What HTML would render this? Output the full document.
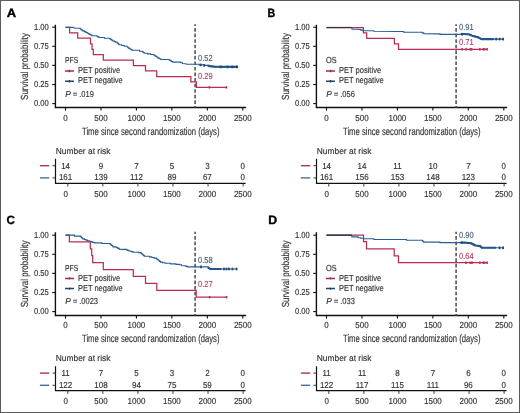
<!DOCTYPE html>
<html><head><meta charset="utf-8"><style>
html,body{margin:0;padding:0;background:#fff;}
body{width:520px;height:413px;overflow:hidden;}
svg{display:block;font-family:"Liberation Sans", sans-serif;will-change:transform;}
text{text-rendering:geometricPrecision;}
</style></head><body>
<svg width="520" height="413" viewBox="0 0 520 413">
<rect x="0" y="0" width="520" height="413" fill="#fff"/>
<rect x="0.5" y="0.5" width="519" height="412" fill="none" stroke="#5a5a5a" stroke-width="1"/>
<text x="6.80" y="16.90" font-size="12" text-anchor="start" fill="#000" stroke="#000" stroke-width="0.35" textLength="9.40" lengthAdjust="spacingAndGlyphs" font-weight="bold">A</text>
<text transform="translate(27.80,66.50) rotate(-90)" x="0" y="0" font-size="10.3" text-anchor="middle" fill="#333" stroke="#333" stroke-width="0.15" textLength="66.8" lengthAdjust="spacingAndGlyphs">Survival probability</text>
<path d="M55.4 24.8 V107.5 H246.1" fill="none" stroke="#111" stroke-width="1.4"/>
<path d="M52.2 103.60 H55.4" stroke="#111" stroke-width="1.1"/>
<text x="48.80" y="106.30" font-size="8.7" text-anchor="end" fill="#333" stroke="#333" stroke-width="0.15" textLength="14.80" lengthAdjust="spacingAndGlyphs">0.00</text>
<path d="M52.2 84.50 H55.4" stroke="#111" stroke-width="1.1"/>
<text x="48.80" y="87.20" font-size="8.7" text-anchor="end" fill="#333" stroke="#333" stroke-width="0.15" textLength="14.80" lengthAdjust="spacingAndGlyphs">0.25</text>
<path d="M52.2 65.40 H55.4" stroke="#111" stroke-width="1.1"/>
<text x="48.80" y="68.10" font-size="8.7" text-anchor="end" fill="#333" stroke="#333" stroke-width="0.15" textLength="14.80" lengthAdjust="spacingAndGlyphs">0.50</text>
<path d="M52.2 46.30 H55.4" stroke="#111" stroke-width="1.1"/>
<text x="48.80" y="49.00" font-size="8.7" text-anchor="end" fill="#333" stroke="#333" stroke-width="0.15" textLength="14.80" lengthAdjust="spacingAndGlyphs">0.75</text>
<path d="M52.2 27.20 H55.4" stroke="#111" stroke-width="1.1"/>
<text x="48.80" y="29.90" font-size="8.7" text-anchor="end" fill="#333" stroke="#333" stroke-width="0.15" textLength="14.80" lengthAdjust="spacingAndGlyphs">1.00</text>
<path d="M65.50 107.5 V110.6" stroke="#111" stroke-width="1.1"/>
<text x="65.50" y="120.80" font-size="8.7" text-anchor="middle" fill="#333" stroke="#333" stroke-width="0.15" textLength="4.45" lengthAdjust="spacingAndGlyphs">0</text>
<path d="M100.96 107.5 V110.6" stroke="#111" stroke-width="1.1"/>
<text x="100.96" y="120.80" font-size="8.7" text-anchor="middle" fill="#333" stroke="#333" stroke-width="0.15" textLength="13.35" lengthAdjust="spacingAndGlyphs">500</text>
<path d="M136.42 107.5 V110.6" stroke="#111" stroke-width="1.1"/>
<text x="136.42" y="120.80" font-size="8.7" text-anchor="middle" fill="#333" stroke="#333" stroke-width="0.15" textLength="17.80" lengthAdjust="spacingAndGlyphs">1000</text>
<path d="M171.88 107.5 V110.6" stroke="#111" stroke-width="1.1"/>
<text x="171.88" y="120.80" font-size="8.7" text-anchor="middle" fill="#333" stroke="#333" stroke-width="0.15" textLength="17.80" lengthAdjust="spacingAndGlyphs">1500</text>
<path d="M207.34 107.5 V110.6" stroke="#111" stroke-width="1.1"/>
<text x="207.34" y="120.80" font-size="8.7" text-anchor="middle" fill="#333" stroke="#333" stroke-width="0.15" textLength="17.80" lengthAdjust="spacingAndGlyphs">2000</text>
<path d="M242.80 107.5 V110.6" stroke="#111" stroke-width="1.1"/>
<text x="242.80" y="120.80" font-size="8.7" text-anchor="middle" fill="#333" stroke="#333" stroke-width="0.15" textLength="17.80" lengthAdjust="spacingAndGlyphs">2500</text>
<text x="82.00" y="134.50" font-size="10.6" text-anchor="start" fill="#333" stroke="#333" stroke-width="0.15" textLength="137.50" lengthAdjust="spacingAndGlyphs">Time since second randomization (days)</text>
<path d="M195.1 24.3 V107.5" stroke="#555" stroke-width="1.6" stroke-dasharray="3.6 1.96" stroke-dashoffset="1.80"/>
<polyline points="65.50,27.40 69.60,27.40 69.60,32.80 77.70,32.80 77.70,38.20 90.50,38.20 90.50,43.80 92.00,43.80 92.00,49.30 93.30,49.30 93.30,54.70 103.30,54.70 103.30,60.20 133.40,60.20 133.40,65.50 145.50,65.50 145.50,70.90 156.70,70.90 156.70,76.60 190.90,76.60 190.90,81.90 196.40,81.90 196.40,87.40 226.80,87.40" fill="none" stroke="#b82e50" stroke-width="1.25"/>
<rect x="208.60" y="86.20" width="1.6" height="2.4" fill="#b82e50"/>
<rect x="225.60" y="86.20" width="1.6" height="2.4" fill="#b82e50"/>
<polyline points="65.50,27.40 73.50,27.40 74.30,28.20 79.30,28.30 80.17,28.30 80.17,28.95 81.05,28.95 81.05,29.60 81.92,29.60 81.92,30.25 82.80,30.25 82.80,30.90 84.33,30.90 84.33,31.67 85.87,31.67 85.87,32.43 87.40,32.43 87.40,33.20 88.55,33.20 88.55,33.85 89.70,33.85 89.70,34.50 90.85,34.50 90.85,35.15 92.00,35.15 92.00,35.80 96.70,35.80 96.70,36.30 97.85,36.30 97.85,36.90 99.00,36.90 99.00,37.50 104.45,37.50 104.45,38.20 109.90,38.20 109.90,38.90 110.87,38.90 110.87,39.60 111.83,39.60 111.83,40.30 112.80,40.30 112.80,41.00 114.30,41.00 114.30,41.63 115.80,41.63 115.80,42.27 117.30,42.27 117.30,42.90 117.87,42.90 117.87,43.50 118.43,43.50 118.43,44.10 119.00,44.10 119.00,44.70 121.70,44.70 121.70,45.47 124.40,45.47 124.40,46.23 127.10,46.23 127.10,47.00 128.00,47.00 128.00,47.70 128.90,47.70 128.90,48.40 129.93,48.40 129.93,49.03 130.97,49.03 130.97,49.67 132.00,49.67 132.00,50.30 139.50,50.30 139.50,51.20 142.40,51.20 142.40,51.80 143.30,51.80 143.30,52.50 144.20,52.50 144.20,53.20 147.47,53.20 147.47,53.87 150.73,53.87 150.73,54.53 154.00,54.53 154.00,55.20 154.97,55.20 154.97,55.88 155.93,55.88 155.93,56.57 156.90,56.57 156.90,57.25 158.00,57.25 158.00,58.10 159.30,58.10 159.30,58.80 160.60,58.80 160.60,59.50 169.30,59.50 169.30,60.30 170.43,60.30 170.43,60.90 171.57,60.90 171.57,61.50 172.70,61.50 172.70,62.10 180.80,62.10 180.80,62.70 182.50,62.70 182.50,63.50 186.00,63.80 186.30,64.20 194.40,64.30 199.00,64.30 199.00,64.90 204.20,64.90 204.20,65.40 209.40,65.40 209.40,66.10 214.00,66.10 214.00,66.80 238.10,66.90" fill="none" stroke="#285e92" stroke-width="1.1" stroke-linejoin="miter"/>
<polyline points="207.50,65.80 209.40,66.10 214.00,66.80 238.10,66.90" fill="none" stroke="#245786" stroke-width="2.1" stroke-linejoin="round"/>
<rect x="199.80" y="63.60" width="1.8" height="2.6" fill="#1b4676"/>
<rect x="203.30" y="64.10" width="1.8" height="2.6" fill="#1b4676"/>
<rect x="219.90" y="65.60" width="1.8" height="2.6" fill="#1b4676"/>
<rect x="226.60" y="65.60" width="1.8" height="2.6" fill="#1b4676"/>
<rect x="231.40" y="65.60" width="1.8" height="2.6" fill="#1b4676"/>
<rect x="235.90" y="65.60" width="1.8" height="2.6" fill="#1b4676"/>
<text x="198.00" y="60.70" font-size="8.7" text-anchor="start" fill="#46617e" stroke="#46617e" stroke-width="0.15" textLength="14.60" lengthAdjust="spacingAndGlyphs">0.52</text>
<text x="198.00" y="78.80" font-size="8.7" text-anchor="start" fill="#b9405f" stroke="#b9405f" stroke-width="0.15" textLength="14.60" lengthAdjust="spacingAndGlyphs">0.29</text>
<text x="65.00" y="63.10" font-size="8.7" text-anchor="start" fill="#333" stroke="#333" stroke-width="0.15" textLength="13.20" lengthAdjust="spacingAndGlyphs">PFS</text>
<path d="M65 71.0 H74.0 M69.5 69.8 V72.2" stroke="#9e2a4e" stroke-width="1.5"/>
<text x="77.90" y="73.20" font-size="8.7" text-anchor="start" fill="#333" stroke="#333" stroke-width="0.15" textLength="42.20" lengthAdjust="spacingAndGlyphs">PET positive</text>
<path d="M65 81.2 H74.0 M69.5 80.0 V82.4" stroke="#1f4670" stroke-width="1.5"/>
<text x="77.90" y="83.30" font-size="8.7" text-anchor="start" fill="#333" stroke="#333" stroke-width="0.15" textLength="44.90" lengthAdjust="spacingAndGlyphs">PET negative</text>
<text x="65.20" y="96.60" font-size="8.7" text-anchor="start" fill="#333" stroke="#333" stroke-width="0.15" textLength="5.60" lengthAdjust="spacingAndGlyphs" font-style="italic">P</text>
<text x="72.80" y="96.60" font-size="8.7" text-anchor="start" fill="#333" stroke="#333" stroke-width="0.15" textLength="4.60" lengthAdjust="spacingAndGlyphs">=</text>
<text x="79.20" y="96.60" font-size="8.7" text-anchor="start" fill="#333" stroke="#333" stroke-width="0.15" textLength="14.63" lengthAdjust="spacingAndGlyphs">.019</text>
<text x="55.80" y="153.80" font-size="8.7" text-anchor="start" fill="#333" stroke="#333" stroke-width="0.15" textLength="54.60" lengthAdjust="spacingAndGlyphs">Number at risk</text>
<path d="M55.5 158.8 V183.3 H245.6" fill="none" stroke="#111" stroke-width="1.2"/>
<path d="M52.5 165.7 H55.5 M52.5 177.9 H55.5" stroke="#333" stroke-width="1.0"/>
<path d="M39.9 165.7 H49.2" stroke="#ad3459" stroke-width="1.4"/>
<path d="M39.9 177.9 H49.2" stroke="#4a6f92" stroke-width="1.4"/>
<path d="M67.80 183.3 V186.5" stroke="#333" stroke-width="0.95"/>
<text x="65.60" y="196.50" font-size="8.7" text-anchor="middle" fill="#333" stroke="#333" stroke-width="0.15" textLength="4.45" lengthAdjust="spacingAndGlyphs">0</text>
<text x="65.60" y="168.50" font-size="8.7" text-anchor="middle" fill="#333" stroke="#333" stroke-width="0.15" textLength="8.90" lengthAdjust="spacingAndGlyphs">14</text>
<text x="65.60" y="180.30" font-size="8.7" text-anchor="middle" fill="#333" stroke="#333" stroke-width="0.15" textLength="13.35" lengthAdjust="spacingAndGlyphs">161</text>
<path d="M102.86 183.3 V186.5" stroke="#333" stroke-width="0.95"/>
<text x="101.04" y="196.50" font-size="8.7" text-anchor="middle" fill="#333" stroke="#333" stroke-width="0.15" textLength="13.35" lengthAdjust="spacingAndGlyphs">500</text>
<text x="101.04" y="168.50" font-size="8.7" text-anchor="middle" fill="#333" stroke="#333" stroke-width="0.15" textLength="4.45" lengthAdjust="spacingAndGlyphs">9</text>
<text x="101.04" y="180.30" font-size="8.7" text-anchor="middle" fill="#333" stroke="#333" stroke-width="0.15" textLength="13.35" lengthAdjust="spacingAndGlyphs">139</text>
<path d="M137.92 183.3 V186.5" stroke="#333" stroke-width="0.95"/>
<text x="136.48" y="196.50" font-size="8.7" text-anchor="middle" fill="#333" stroke="#333" stroke-width="0.15" textLength="17.80" lengthAdjust="spacingAndGlyphs">1000</text>
<text x="136.48" y="168.50" font-size="8.7" text-anchor="middle" fill="#333" stroke="#333" stroke-width="0.15" textLength="4.45" lengthAdjust="spacingAndGlyphs">7</text>
<text x="136.48" y="180.30" font-size="8.7" text-anchor="middle" fill="#333" stroke="#333" stroke-width="0.15" textLength="12.75" lengthAdjust="spacingAndGlyphs">112</text>
<path d="M172.98 183.3 V186.5" stroke="#333" stroke-width="0.95"/>
<text x="171.92" y="196.50" font-size="8.7" text-anchor="middle" fill="#333" stroke="#333" stroke-width="0.15" textLength="17.80" lengthAdjust="spacingAndGlyphs">1500</text>
<text x="171.92" y="168.50" font-size="8.7" text-anchor="middle" fill="#333" stroke="#333" stroke-width="0.15" textLength="4.45" lengthAdjust="spacingAndGlyphs">5</text>
<text x="171.92" y="180.30" font-size="8.7" text-anchor="middle" fill="#333" stroke="#333" stroke-width="0.15" textLength="8.90" lengthAdjust="spacingAndGlyphs">89</text>
<path d="M208.04 183.3 V186.5" stroke="#333" stroke-width="0.95"/>
<text x="207.36" y="196.50" font-size="8.7" text-anchor="middle" fill="#333" stroke="#333" stroke-width="0.15" textLength="17.80" lengthAdjust="spacingAndGlyphs">2000</text>
<text x="207.36" y="168.50" font-size="8.7" text-anchor="middle" fill="#333" stroke="#333" stroke-width="0.15" textLength="4.45" lengthAdjust="spacingAndGlyphs">3</text>
<text x="207.36" y="180.30" font-size="8.7" text-anchor="middle" fill="#333" stroke="#333" stroke-width="0.15" textLength="8.90" lengthAdjust="spacingAndGlyphs">67</text>
<path d="M243.10 183.3 V186.5" stroke="#333" stroke-width="0.95"/>
<text x="242.80" y="196.50" font-size="8.7" text-anchor="middle" fill="#333" stroke="#333" stroke-width="0.15" textLength="17.80" lengthAdjust="spacingAndGlyphs">2500</text>
<text x="242.80" y="168.50" font-size="8.7" text-anchor="middle" fill="#333" stroke="#333" stroke-width="0.15" textLength="4.45" lengthAdjust="spacingAndGlyphs">0</text>
<text x="242.80" y="180.30" font-size="8.7" text-anchor="middle" fill="#333" stroke="#333" stroke-width="0.15" textLength="4.45" lengthAdjust="spacingAndGlyphs">0</text>
<text x="267.60" y="16.90" font-size="12" text-anchor="start" fill="#000" stroke="#000" stroke-width="0.35" textLength="7.70" lengthAdjust="spacingAndGlyphs" font-weight="bold">B</text>
<text transform="translate(288.80,66.50) rotate(-90)" x="0" y="0" font-size="10.3" text-anchor="middle" fill="#333" stroke="#333" stroke-width="0.15" textLength="66.8" lengthAdjust="spacingAndGlyphs">Survival probability</text>
<path d="M316.4 24.8 V107.5 H507.1" fill="none" stroke="#111" stroke-width="1.4"/>
<path d="M313.2 103.60 H316.4" stroke="#111" stroke-width="1.1"/>
<text x="309.80" y="106.30" font-size="8.7" text-anchor="end" fill="#333" stroke="#333" stroke-width="0.15" textLength="14.80" lengthAdjust="spacingAndGlyphs">0.00</text>
<path d="M313.2 84.50 H316.4" stroke="#111" stroke-width="1.1"/>
<text x="309.80" y="87.20" font-size="8.7" text-anchor="end" fill="#333" stroke="#333" stroke-width="0.15" textLength="14.80" lengthAdjust="spacingAndGlyphs">0.25</text>
<path d="M313.2 65.40 H316.4" stroke="#111" stroke-width="1.1"/>
<text x="309.80" y="68.10" font-size="8.7" text-anchor="end" fill="#333" stroke="#333" stroke-width="0.15" textLength="14.80" lengthAdjust="spacingAndGlyphs">0.50</text>
<path d="M313.2 46.30 H316.4" stroke="#111" stroke-width="1.1"/>
<text x="309.80" y="49.00" font-size="8.7" text-anchor="end" fill="#333" stroke="#333" stroke-width="0.15" textLength="14.80" lengthAdjust="spacingAndGlyphs">0.75</text>
<path d="M313.2 27.20 H316.4" stroke="#111" stroke-width="1.1"/>
<text x="309.80" y="29.90" font-size="8.7" text-anchor="end" fill="#333" stroke="#333" stroke-width="0.15" textLength="14.80" lengthAdjust="spacingAndGlyphs">1.00</text>
<path d="M326.50 107.5 V110.6" stroke="#111" stroke-width="1.1"/>
<text x="326.50" y="120.80" font-size="8.7" text-anchor="middle" fill="#333" stroke="#333" stroke-width="0.15" textLength="4.45" lengthAdjust="spacingAndGlyphs">0</text>
<path d="M361.96 107.5 V110.6" stroke="#111" stroke-width="1.1"/>
<text x="361.96" y="120.80" font-size="8.7" text-anchor="middle" fill="#333" stroke="#333" stroke-width="0.15" textLength="13.35" lengthAdjust="spacingAndGlyphs">500</text>
<path d="M397.42 107.5 V110.6" stroke="#111" stroke-width="1.1"/>
<text x="397.42" y="120.80" font-size="8.7" text-anchor="middle" fill="#333" stroke="#333" stroke-width="0.15" textLength="17.80" lengthAdjust="spacingAndGlyphs">1000</text>
<path d="M432.88 107.5 V110.6" stroke="#111" stroke-width="1.1"/>
<text x="432.88" y="120.80" font-size="8.7" text-anchor="middle" fill="#333" stroke="#333" stroke-width="0.15" textLength="17.80" lengthAdjust="spacingAndGlyphs">1500</text>
<path d="M468.34 107.5 V110.6" stroke="#111" stroke-width="1.1"/>
<text x="468.34" y="120.80" font-size="8.7" text-anchor="middle" fill="#333" stroke="#333" stroke-width="0.15" textLength="17.80" lengthAdjust="spacingAndGlyphs">2000</text>
<path d="M503.80 107.5 V110.6" stroke="#111" stroke-width="1.1"/>
<text x="503.80" y="120.80" font-size="8.7" text-anchor="middle" fill="#333" stroke="#333" stroke-width="0.15" textLength="17.80" lengthAdjust="spacingAndGlyphs">2500</text>
<text x="343.00" y="134.50" font-size="10.6" text-anchor="start" fill="#333" stroke="#333" stroke-width="0.15" textLength="137.50" lengthAdjust="spacingAndGlyphs">Time since second randomization (days)</text>
<path d="M456.1 24.3 V107.5" stroke="#555" stroke-width="1.6" stroke-dasharray="3.6 1.96" stroke-dashoffset="1.80"/>
<polyline points="326.50,27.50 363.40,27.50 363.40,32.80 366.70,32.80 366.70,38.40 394.40,38.40 394.40,43.90 398.50,43.90 398.50,49.30 488.00,49.30" fill="none" stroke="#b82e50" stroke-width="1.25"/>
<rect x="461.30" y="48.10" width="1.6" height="2.4" fill="#b82e50"/>
<rect x="465.20" y="48.10" width="1.6" height="2.4" fill="#b82e50"/>
<rect x="469.50" y="48.10" width="1.6" height="2.4" fill="#b82e50"/>
<rect x="470.80" y="48.10" width="1.6" height="2.4" fill="#b82e50"/>
<rect x="479.00" y="48.10" width="1.6" height="2.4" fill="#b82e50"/>
<rect x="482.50" y="48.10" width="1.6" height="2.4" fill="#b82e50"/>
<rect x="483.80" y="48.10" width="1.6" height="2.4" fill="#b82e50"/>
<rect x="486.40" y="48.10" width="1.6" height="2.4" fill="#b82e50"/>
<polyline points="326.50,27.50 351.80,27.50 352.10,29.20 358.50,29.20 358.50,29.50 360.80,29.50 360.80,30.10 363.10,30.10 363.10,30.70 370.00,30.80 373.80,30.80 373.80,31.25 396.90,31.50 403.70,31.50 403.70,32.20 420.80,32.20 422.25,32.20 422.25,32.92 423.70,32.92 423.70,33.65 439.00,33.85 440.00,33.85 440.00,34.40 461.50,34.40 468.50,34.30 470.00,34.30 470.00,34.90 471.50,34.90 471.50,35.50 473.00,35.50 473.00,36.10 475.35,36.10 475.35,36.65 477.70,36.65 477.70,37.20 478.87,37.20 478.87,37.83 480.03,37.83 480.03,38.47 481.20,38.47 481.20,39.10 503.10,39.10" fill="none" stroke="#285e92" stroke-width="1.1" stroke-linejoin="miter"/>
<polyline points="326.50,27.50 351.80,27.50" fill="none" stroke="#3a3346" stroke-width="1.25"/>
<polyline points="461.00,34.00 468.50,34.30 473.00,36.10 477.70,37.20 481.20,39.10 493.80,39.10" fill="none" stroke="#245786" stroke-width="2.1" stroke-linejoin="round"/>
<rect x="461.20" y="32.90" width="1.8" height="2.6" fill="#1b4676"/>
<rect x="495.30" y="37.80" width="1.8" height="2.6" fill="#1b4676"/>
<rect x="498.70" y="37.80" width="1.8" height="2.6" fill="#1b4676"/>
<rect x="502.20" y="37.80" width="1.8" height="2.6" fill="#1b4676"/>
<text x="459.00" y="29.50" font-size="8.7" text-anchor="start" fill="#46617e" stroke="#46617e" stroke-width="0.15" textLength="14.60" lengthAdjust="spacingAndGlyphs">0.91</text>
<text x="459.00" y="44.60" font-size="8.7" text-anchor="start" fill="#b9405f" stroke="#b9405f" stroke-width="0.15" textLength="14.60" lengthAdjust="spacingAndGlyphs">0.71</text>
<text x="326.00" y="63.10" font-size="8.7" text-anchor="start" fill="#333" stroke="#333" stroke-width="0.15" textLength="10.60" lengthAdjust="spacingAndGlyphs">OS</text>
<path d="M326 71.0 H335.0 M330.5 69.8 V72.2" stroke="#9e2a4e" stroke-width="1.5"/>
<text x="338.90" y="73.20" font-size="8.7" text-anchor="start" fill="#333" stroke="#333" stroke-width="0.15" textLength="42.20" lengthAdjust="spacingAndGlyphs">PET positive</text>
<path d="M326 81.2 H335.0 M330.5 80.0 V82.4" stroke="#1f4670" stroke-width="1.5"/>
<text x="338.90" y="83.30" font-size="8.7" text-anchor="start" fill="#333" stroke="#333" stroke-width="0.15" textLength="44.90" lengthAdjust="spacingAndGlyphs">PET negative</text>
<text x="326.20" y="96.60" font-size="8.7" text-anchor="start" fill="#333" stroke="#333" stroke-width="0.15" textLength="5.60" lengthAdjust="spacingAndGlyphs" font-style="italic">P</text>
<text x="333.80" y="96.60" font-size="8.7" text-anchor="start" fill="#333" stroke="#333" stroke-width="0.15" textLength="4.60" lengthAdjust="spacingAndGlyphs">=</text>
<text x="340.20" y="96.60" font-size="8.7" text-anchor="start" fill="#333" stroke="#333" stroke-width="0.15" textLength="14.63" lengthAdjust="spacingAndGlyphs">.056</text>
<text x="316.80" y="153.80" font-size="8.7" text-anchor="start" fill="#333" stroke="#333" stroke-width="0.15" textLength="54.60" lengthAdjust="spacingAndGlyphs">Number at risk</text>
<path d="M316.5 158.8 V183.3 H506.6" fill="none" stroke="#111" stroke-width="1.2"/>
<path d="M313.5 165.7 H316.5 M313.5 177.9 H316.5" stroke="#333" stroke-width="1.0"/>
<path d="M300.9 165.7 H310.2" stroke="#ad3459" stroke-width="1.4"/>
<path d="M300.9 177.9 H310.2" stroke="#4a6f92" stroke-width="1.4"/>
<path d="M328.80 183.3 V186.5" stroke="#333" stroke-width="0.95"/>
<text x="326.60" y="196.50" font-size="8.7" text-anchor="middle" fill="#333" stroke="#333" stroke-width="0.15" textLength="4.45" lengthAdjust="spacingAndGlyphs">0</text>
<text x="326.60" y="168.50" font-size="8.7" text-anchor="middle" fill="#333" stroke="#333" stroke-width="0.15" textLength="8.90" lengthAdjust="spacingAndGlyphs">14</text>
<text x="326.60" y="180.30" font-size="8.7" text-anchor="middle" fill="#333" stroke="#333" stroke-width="0.15" textLength="13.35" lengthAdjust="spacingAndGlyphs">161</text>
<path d="M363.86 183.3 V186.5" stroke="#333" stroke-width="0.95"/>
<text x="362.04" y="196.50" font-size="8.7" text-anchor="middle" fill="#333" stroke="#333" stroke-width="0.15" textLength="13.35" lengthAdjust="spacingAndGlyphs">500</text>
<text x="362.04" y="168.50" font-size="8.7" text-anchor="middle" fill="#333" stroke="#333" stroke-width="0.15" textLength="8.90" lengthAdjust="spacingAndGlyphs">14</text>
<text x="362.04" y="180.30" font-size="8.7" text-anchor="middle" fill="#333" stroke="#333" stroke-width="0.15" textLength="13.35" lengthAdjust="spacingAndGlyphs">156</text>
<path d="M398.92 183.3 V186.5" stroke="#333" stroke-width="0.95"/>
<text x="397.48" y="196.50" font-size="8.7" text-anchor="middle" fill="#333" stroke="#333" stroke-width="0.15" textLength="17.80" lengthAdjust="spacingAndGlyphs">1000</text>
<text x="397.48" y="168.50" font-size="8.7" text-anchor="middle" fill="#333" stroke="#333" stroke-width="0.15" textLength="8.30" lengthAdjust="spacingAndGlyphs">11</text>
<text x="397.48" y="180.30" font-size="8.7" text-anchor="middle" fill="#333" stroke="#333" stroke-width="0.15" textLength="13.35" lengthAdjust="spacingAndGlyphs">153</text>
<path d="M433.98 183.3 V186.5" stroke="#333" stroke-width="0.95"/>
<text x="432.92" y="196.50" font-size="8.7" text-anchor="middle" fill="#333" stroke="#333" stroke-width="0.15" textLength="17.80" lengthAdjust="spacingAndGlyphs">1500</text>
<text x="432.92" y="168.50" font-size="8.7" text-anchor="middle" fill="#333" stroke="#333" stroke-width="0.15" textLength="8.90" lengthAdjust="spacingAndGlyphs">10</text>
<text x="432.92" y="180.30" font-size="8.7" text-anchor="middle" fill="#333" stroke="#333" stroke-width="0.15" textLength="13.35" lengthAdjust="spacingAndGlyphs">148</text>
<path d="M469.04 183.3 V186.5" stroke="#333" stroke-width="0.95"/>
<text x="468.36" y="196.50" font-size="8.7" text-anchor="middle" fill="#333" stroke="#333" stroke-width="0.15" textLength="17.80" lengthAdjust="spacingAndGlyphs">2000</text>
<text x="468.36" y="168.50" font-size="8.7" text-anchor="middle" fill="#333" stroke="#333" stroke-width="0.15" textLength="4.45" lengthAdjust="spacingAndGlyphs">7</text>
<text x="468.36" y="180.30" font-size="8.7" text-anchor="middle" fill="#333" stroke="#333" stroke-width="0.15" textLength="13.35" lengthAdjust="spacingAndGlyphs">123</text>
<path d="M504.10 183.3 V186.5" stroke="#333" stroke-width="0.95"/>
<text x="503.80" y="196.50" font-size="8.7" text-anchor="middle" fill="#333" stroke="#333" stroke-width="0.15" textLength="17.80" lengthAdjust="spacingAndGlyphs">2500</text>
<text x="503.80" y="168.50" font-size="8.7" text-anchor="middle" fill="#333" stroke="#333" stroke-width="0.15" textLength="4.45" lengthAdjust="spacingAndGlyphs">0</text>
<text x="503.80" y="180.30" font-size="8.7" text-anchor="middle" fill="#333" stroke="#333" stroke-width="0.15" textLength="4.45" lengthAdjust="spacingAndGlyphs">0</text>
<text x="6.60" y="223.80" font-size="12" text-anchor="start" fill="#000" stroke="#000" stroke-width="0.35" textLength="8.40" lengthAdjust="spacingAndGlyphs" font-weight="bold">C</text>
<text transform="translate(27.80,273.90) rotate(-90)" x="0" y="0" font-size="10.3" text-anchor="middle" fill="#333" stroke="#333" stroke-width="0.15" textLength="66.8" lengthAdjust="spacingAndGlyphs">Survival probability</text>
<path d="M55.4 232.20000000000002 V315.5 H246.1" fill="none" stroke="#111" stroke-width="1.4"/>
<path d="M52.2 311.60 H55.4" stroke="#111" stroke-width="1.1"/>
<text x="48.80" y="314.30" font-size="8.7" text-anchor="end" fill="#333" stroke="#333" stroke-width="0.15" textLength="14.80" lengthAdjust="spacingAndGlyphs">0.00</text>
<path d="M52.2 292.50 H55.4" stroke="#111" stroke-width="1.1"/>
<text x="48.80" y="295.20" font-size="8.7" text-anchor="end" fill="#333" stroke="#333" stroke-width="0.15" textLength="14.80" lengthAdjust="spacingAndGlyphs">0.25</text>
<path d="M52.2 273.40 H55.4" stroke="#111" stroke-width="1.1"/>
<text x="48.80" y="276.10" font-size="8.7" text-anchor="end" fill="#333" stroke="#333" stroke-width="0.15" textLength="14.80" lengthAdjust="spacingAndGlyphs">0.50</text>
<path d="M52.2 254.30 H55.4" stroke="#111" stroke-width="1.1"/>
<text x="48.80" y="257.00" font-size="8.7" text-anchor="end" fill="#333" stroke="#333" stroke-width="0.15" textLength="14.80" lengthAdjust="spacingAndGlyphs">0.75</text>
<path d="M52.2 235.20 H55.4" stroke="#111" stroke-width="1.1"/>
<text x="48.80" y="237.90" font-size="8.7" text-anchor="end" fill="#333" stroke="#333" stroke-width="0.15" textLength="14.80" lengthAdjust="spacingAndGlyphs">1.00</text>
<path d="M65.50 315.5 V318.6" stroke="#111" stroke-width="1.1"/>
<text x="65.50" y="328.20" font-size="8.7" text-anchor="middle" fill="#333" stroke="#333" stroke-width="0.15" textLength="4.45" lengthAdjust="spacingAndGlyphs">0</text>
<path d="M100.96 315.5 V318.6" stroke="#111" stroke-width="1.1"/>
<text x="100.96" y="328.20" font-size="8.7" text-anchor="middle" fill="#333" stroke="#333" stroke-width="0.15" textLength="13.35" lengthAdjust="spacingAndGlyphs">500</text>
<path d="M136.42 315.5 V318.6" stroke="#111" stroke-width="1.1"/>
<text x="136.42" y="328.20" font-size="8.7" text-anchor="middle" fill="#333" stroke="#333" stroke-width="0.15" textLength="17.80" lengthAdjust="spacingAndGlyphs">1000</text>
<path d="M171.88 315.5 V318.6" stroke="#111" stroke-width="1.1"/>
<text x="171.88" y="328.20" font-size="8.7" text-anchor="middle" fill="#333" stroke="#333" stroke-width="0.15" textLength="17.80" lengthAdjust="spacingAndGlyphs">1500</text>
<path d="M207.34 315.5 V318.6" stroke="#111" stroke-width="1.1"/>
<text x="207.34" y="328.20" font-size="8.7" text-anchor="middle" fill="#333" stroke="#333" stroke-width="0.15" textLength="17.80" lengthAdjust="spacingAndGlyphs">2000</text>
<path d="M242.80 315.5 V318.6" stroke="#111" stroke-width="1.1"/>
<text x="242.80" y="328.20" font-size="8.7" text-anchor="middle" fill="#333" stroke="#333" stroke-width="0.15" textLength="17.80" lengthAdjust="spacingAndGlyphs">2500</text>
<text x="82.00" y="341.90" font-size="10.6" text-anchor="start" fill="#333" stroke="#333" stroke-width="0.15" textLength="137.50" lengthAdjust="spacingAndGlyphs">Time since second randomization (days)</text>
<path d="M195.1 231.70000000000002 V315.5" stroke="#555" stroke-width="1.6" stroke-dasharray="3.6 1.96" stroke-dashoffset="1.20"/>
<polyline points="65.50,235.10 69.40,235.10 69.40,241.80 90.30,241.80 90.30,248.80 91.70,248.80 91.70,255.70 92.70,255.70 92.70,262.70 103.30,262.70 103.30,269.60 133.30,269.60 133.30,276.30 145.50,276.30 145.50,283.30 156.80,283.30 156.80,290.30 196.20,290.30 196.20,297.20 226.80,297.20" fill="none" stroke="#b82e50" stroke-width="1.25"/>
<rect x="208.90" y="296.00" width="1.6" height="2.4" fill="#b82e50"/>
<rect x="225.80" y="296.00" width="1.6" height="2.4" fill="#b82e50"/>
<polyline points="65.50,235.10 73.00,235.10 74.40,235.10 74.40,236.10 79.90,236.10 80.62,236.10 80.62,236.80 81.35,236.80 81.35,237.50 82.08,237.50 82.08,238.20 82.80,238.20 82.80,238.90 84.33,238.90 84.33,239.50 85.87,239.50 85.87,240.10 87.40,240.10 87.40,240.70 89.70,240.70 89.70,241.55 92.00,241.55 92.00,242.40 94.30,242.40 94.30,242.90 102.00,242.90 102.00,243.50 109.60,243.50 110.30,243.50 110.30,244.18 111.00,244.18 111.00,244.86 111.70,244.86 111.70,245.54 112.40,245.54 112.40,246.22 113.10,246.22 113.10,246.90 116.20,246.90 116.20,247.50 117.70,247.50 117.70,248.35 119.20,248.35 119.20,249.20 123.10,249.40 126.90,249.40 126.90,250.40 128.97,250.40 128.97,251.00 131.03,251.00 131.03,251.60 133.10,251.60 133.10,252.20 138.50,252.20 138.50,252.60 141.10,252.60 141.10,253.50 141.95,253.50 141.95,254.20 142.80,254.20 142.80,254.90 143.65,254.90 143.65,255.60 144.50,255.60 144.50,256.30 149.50,256.30 149.50,256.90 151.80,256.90 151.80,257.50 154.10,257.50 154.10,258.10 156.40,258.10 156.40,258.70 157.20,258.70 157.20,259.38 158.00,259.38 158.00,260.06 158.80,260.06 158.80,260.74 159.60,260.74 159.60,261.42 160.40,261.42 160.40,262.10 162.70,262.10 162.70,262.70 165.00,262.70 165.00,263.30 170.50,263.30 170.50,263.85 176.00,263.85 176.00,264.40 179.80,264.40 179.80,264.70 181.50,264.70 181.50,265.50 184.40,265.80 185.85,265.80 185.85,266.35 187.30,266.35 187.30,266.90 195.40,266.80 200.80,266.90 204.50,266.90 207.90,266.90 207.90,267.30 208.75,267.30 208.75,267.95 209.60,267.95 209.60,268.60 210.40,269.00 236.70,269.00" fill="none" stroke="#285e92" stroke-width="1.1" stroke-linejoin="miter"/>
<polyline points="207.90,267.30 209.60,268.60 210.40,269.00 221.50,269.00" fill="none" stroke="#245786" stroke-width="2.1" stroke-linejoin="round"/>
<rect x="200.20" y="265.60" width="1.8" height="2.6" fill="#1b4676"/>
<rect x="223.10" y="267.70" width="1.8" height="2.6" fill="#1b4676"/>
<rect x="225.60" y="267.70" width="1.8" height="2.6" fill="#1b4676"/>
<rect x="228.10" y="267.70" width="1.8" height="2.6" fill="#1b4676"/>
<rect x="231.50" y="267.70" width="1.8" height="2.6" fill="#1b4676"/>
<rect x="235.60" y="267.70" width="1.8" height="2.6" fill="#1b4676"/>
<text x="198.00" y="263.10" font-size="8.7" text-anchor="start" fill="#46617e" stroke="#46617e" stroke-width="0.15" textLength="14.60" lengthAdjust="spacingAndGlyphs">0.58</text>
<text x="198.00" y="286.90" font-size="8.7" text-anchor="start" fill="#b9405f" stroke="#b9405f" stroke-width="0.15" textLength="14.60" lengthAdjust="spacingAndGlyphs">0.27</text>
<text x="65.00" y="270.50" font-size="8.7" text-anchor="start" fill="#333" stroke="#333" stroke-width="0.15" textLength="13.20" lengthAdjust="spacingAndGlyphs">PFS</text>
<path d="M65 278.4 H74.0 M69.5 277.2 V279.59999999999997" stroke="#9e2a4e" stroke-width="1.5"/>
<text x="77.90" y="280.60" font-size="8.7" text-anchor="start" fill="#333" stroke="#333" stroke-width="0.15" textLength="42.20" lengthAdjust="spacingAndGlyphs">PET positive</text>
<path d="M65 288.59999999999997 H74.0 M69.5 287.4 V289.79999999999995" stroke="#1f4670" stroke-width="1.5"/>
<text x="77.90" y="290.70" font-size="8.7" text-anchor="start" fill="#333" stroke="#333" stroke-width="0.15" textLength="44.90" lengthAdjust="spacingAndGlyphs">PET negative</text>
<text x="65.20" y="304.00" font-size="8.7" text-anchor="start" fill="#333" stroke="#333" stroke-width="0.15" textLength="5.60" lengthAdjust="spacingAndGlyphs" font-style="italic">P</text>
<text x="72.80" y="304.00" font-size="8.7" text-anchor="start" fill="#333" stroke="#333" stroke-width="0.15" textLength="4.60" lengthAdjust="spacingAndGlyphs">=</text>
<text x="79.20" y="304.00" font-size="8.7" text-anchor="start" fill="#333" stroke="#333" stroke-width="0.15" textLength="18.82" lengthAdjust="spacingAndGlyphs">.0023</text>
<text x="55.80" y="361.20" font-size="8.7" text-anchor="start" fill="#333" stroke="#333" stroke-width="0.15" textLength="54.60" lengthAdjust="spacingAndGlyphs">Number at risk</text>
<path d="M55.5 366.2 V390.7 H245.6" fill="none" stroke="#111" stroke-width="1.2"/>
<path d="M52.5 373.09999999999997 H55.5 M52.5 385.29999999999995 H55.5" stroke="#333" stroke-width="1.0"/>
<path d="M39.9 373.09999999999997 H49.2" stroke="#ad3459" stroke-width="1.4"/>
<path d="M39.9 385.29999999999995 H49.2" stroke="#4a6f92" stroke-width="1.4"/>
<path d="M67.80 390.7 V393.9" stroke="#333" stroke-width="0.95"/>
<text x="65.60" y="403.90" font-size="8.7" text-anchor="middle" fill="#333" stroke="#333" stroke-width="0.15" textLength="4.45" lengthAdjust="spacingAndGlyphs">0</text>
<text x="65.60" y="375.90" font-size="8.7" text-anchor="middle" fill="#333" stroke="#333" stroke-width="0.15" textLength="8.30" lengthAdjust="spacingAndGlyphs">11</text>
<text x="65.60" y="387.70" font-size="8.7" text-anchor="middle" fill="#333" stroke="#333" stroke-width="0.15" textLength="13.35" lengthAdjust="spacingAndGlyphs">122</text>
<path d="M102.86 390.7 V393.9" stroke="#333" stroke-width="0.95"/>
<text x="101.04" y="403.90" font-size="8.7" text-anchor="middle" fill="#333" stroke="#333" stroke-width="0.15" textLength="13.35" lengthAdjust="spacingAndGlyphs">500</text>
<text x="101.04" y="375.90" font-size="8.7" text-anchor="middle" fill="#333" stroke="#333" stroke-width="0.15" textLength="4.45" lengthAdjust="spacingAndGlyphs">7</text>
<text x="101.04" y="387.70" font-size="8.7" text-anchor="middle" fill="#333" stroke="#333" stroke-width="0.15" textLength="13.35" lengthAdjust="spacingAndGlyphs">108</text>
<path d="M137.92 390.7 V393.9" stroke="#333" stroke-width="0.95"/>
<text x="136.48" y="403.90" font-size="8.7" text-anchor="middle" fill="#333" stroke="#333" stroke-width="0.15" textLength="17.80" lengthAdjust="spacingAndGlyphs">1000</text>
<text x="136.48" y="375.90" font-size="8.7" text-anchor="middle" fill="#333" stroke="#333" stroke-width="0.15" textLength="4.45" lengthAdjust="spacingAndGlyphs">5</text>
<text x="136.48" y="387.70" font-size="8.7" text-anchor="middle" fill="#333" stroke="#333" stroke-width="0.15" textLength="8.90" lengthAdjust="spacingAndGlyphs">94</text>
<path d="M172.98 390.7 V393.9" stroke="#333" stroke-width="0.95"/>
<text x="171.92" y="403.90" font-size="8.7" text-anchor="middle" fill="#333" stroke="#333" stroke-width="0.15" textLength="17.80" lengthAdjust="spacingAndGlyphs">1500</text>
<text x="171.92" y="375.90" font-size="8.7" text-anchor="middle" fill="#333" stroke="#333" stroke-width="0.15" textLength="4.45" lengthAdjust="spacingAndGlyphs">3</text>
<text x="171.92" y="387.70" font-size="8.7" text-anchor="middle" fill="#333" stroke="#333" stroke-width="0.15" textLength="8.90" lengthAdjust="spacingAndGlyphs">75</text>
<path d="M208.04 390.7 V393.9" stroke="#333" stroke-width="0.95"/>
<text x="207.36" y="403.90" font-size="8.7" text-anchor="middle" fill="#333" stroke="#333" stroke-width="0.15" textLength="17.80" lengthAdjust="spacingAndGlyphs">2000</text>
<text x="207.36" y="375.90" font-size="8.7" text-anchor="middle" fill="#333" stroke="#333" stroke-width="0.15" textLength="4.45" lengthAdjust="spacingAndGlyphs">2</text>
<text x="207.36" y="387.70" font-size="8.7" text-anchor="middle" fill="#333" stroke="#333" stroke-width="0.15" textLength="8.90" lengthAdjust="spacingAndGlyphs">59</text>
<path d="M243.10 390.7 V393.9" stroke="#333" stroke-width="0.95"/>
<text x="242.80" y="403.90" font-size="8.7" text-anchor="middle" fill="#333" stroke="#333" stroke-width="0.15" textLength="17.80" lengthAdjust="spacingAndGlyphs">2500</text>
<text x="242.80" y="375.90" font-size="8.7" text-anchor="middle" fill="#333" stroke="#333" stroke-width="0.15" textLength="4.45" lengthAdjust="spacingAndGlyphs">0</text>
<text x="242.80" y="387.70" font-size="8.7" text-anchor="middle" fill="#333" stroke="#333" stroke-width="0.15" textLength="4.45" lengthAdjust="spacingAndGlyphs">0</text>
<text x="268.30" y="224.00" font-size="12" text-anchor="start" fill="#000" stroke="#000" stroke-width="0.35" textLength="8.90" lengthAdjust="spacingAndGlyphs" font-weight="bold">D</text>
<text transform="translate(288.80,273.90) rotate(-90)" x="0" y="0" font-size="10.3" text-anchor="middle" fill="#333" stroke="#333" stroke-width="0.15" textLength="66.8" lengthAdjust="spacingAndGlyphs">Survival probability</text>
<path d="M316.4 232.20000000000002 V315.5 H507.1" fill="none" stroke="#111" stroke-width="1.4"/>
<path d="M313.2 311.60 H316.4" stroke="#111" stroke-width="1.1"/>
<text x="309.80" y="314.30" font-size="8.7" text-anchor="end" fill="#333" stroke="#333" stroke-width="0.15" textLength="14.80" lengthAdjust="spacingAndGlyphs">0.00</text>
<path d="M313.2 292.50 H316.4" stroke="#111" stroke-width="1.1"/>
<text x="309.80" y="295.20" font-size="8.7" text-anchor="end" fill="#333" stroke="#333" stroke-width="0.15" textLength="14.80" lengthAdjust="spacingAndGlyphs">0.25</text>
<path d="M313.2 273.40 H316.4" stroke="#111" stroke-width="1.1"/>
<text x="309.80" y="276.10" font-size="8.7" text-anchor="end" fill="#333" stroke="#333" stroke-width="0.15" textLength="14.80" lengthAdjust="spacingAndGlyphs">0.50</text>
<path d="M313.2 254.30 H316.4" stroke="#111" stroke-width="1.1"/>
<text x="309.80" y="257.00" font-size="8.7" text-anchor="end" fill="#333" stroke="#333" stroke-width="0.15" textLength="14.80" lengthAdjust="spacingAndGlyphs">0.75</text>
<path d="M313.2 235.20 H316.4" stroke="#111" stroke-width="1.1"/>
<text x="309.80" y="237.90" font-size="8.7" text-anchor="end" fill="#333" stroke="#333" stroke-width="0.15" textLength="14.80" lengthAdjust="spacingAndGlyphs">1.00</text>
<path d="M326.50 315.5 V318.6" stroke="#111" stroke-width="1.1"/>
<text x="326.50" y="328.20" font-size="8.7" text-anchor="middle" fill="#333" stroke="#333" stroke-width="0.15" textLength="4.45" lengthAdjust="spacingAndGlyphs">0</text>
<path d="M361.96 315.5 V318.6" stroke="#111" stroke-width="1.1"/>
<text x="361.96" y="328.20" font-size="8.7" text-anchor="middle" fill="#333" stroke="#333" stroke-width="0.15" textLength="13.35" lengthAdjust="spacingAndGlyphs">500</text>
<path d="M397.42 315.5 V318.6" stroke="#111" stroke-width="1.1"/>
<text x="397.42" y="328.20" font-size="8.7" text-anchor="middle" fill="#333" stroke="#333" stroke-width="0.15" textLength="17.80" lengthAdjust="spacingAndGlyphs">1000</text>
<path d="M432.88 315.5 V318.6" stroke="#111" stroke-width="1.1"/>
<text x="432.88" y="328.20" font-size="8.7" text-anchor="middle" fill="#333" stroke="#333" stroke-width="0.15" textLength="17.80" lengthAdjust="spacingAndGlyphs">1500</text>
<path d="M468.34 315.5 V318.6" stroke="#111" stroke-width="1.1"/>
<text x="468.34" y="328.20" font-size="8.7" text-anchor="middle" fill="#333" stroke="#333" stroke-width="0.15" textLength="17.80" lengthAdjust="spacingAndGlyphs">2000</text>
<path d="M503.80 315.5 V318.6" stroke="#111" stroke-width="1.1"/>
<text x="503.80" y="328.20" font-size="8.7" text-anchor="middle" fill="#333" stroke="#333" stroke-width="0.15" textLength="17.80" lengthAdjust="spacingAndGlyphs">2500</text>
<text x="343.00" y="341.90" font-size="10.6" text-anchor="start" fill="#333" stroke="#333" stroke-width="0.15" textLength="137.50" lengthAdjust="spacingAndGlyphs">Time since second randomization (days)</text>
<path d="M456.1 231.70000000000002 V315.5" stroke="#555" stroke-width="1.6" stroke-dasharray="3.6 1.96" stroke-dashoffset="1.20"/>
<polyline points="326.50,235.20 363.50,235.20 363.50,241.60 366.50,241.60 366.50,248.90 394.20,248.90 394.20,255.80 398.50,255.80 398.50,262.70 488.00,262.70" fill="none" stroke="#b82e50" stroke-width="1.25"/>
<rect x="465.20" y="261.50" width="1.6" height="2.4" fill="#b82e50"/>
<rect x="469.50" y="261.50" width="1.6" height="2.4" fill="#b82e50"/>
<rect x="471.20" y="261.50" width="1.6" height="2.4" fill="#b82e50"/>
<rect x="479.00" y="261.50" width="1.6" height="2.4" fill="#b82e50"/>
<rect x="482.50" y="261.50" width="1.6" height="2.4" fill="#b82e50"/>
<rect x="483.80" y="261.50" width="1.6" height="2.4" fill="#b82e50"/>
<rect x="486.40" y="261.50" width="1.6" height="2.4" fill="#b82e50"/>
<polyline points="326.50,235.20 351.50,235.30 351.90,236.90 358.00,236.90 358.00,237.70 360.75,237.70 360.75,238.25 363.50,238.25 363.50,238.80 373.80,238.80 373.80,239.50 403.70,239.50 406.50,239.50 406.50,240.20 421.70,240.20 422.37,240.20 422.37,240.83 423.03,240.83 423.03,241.47 423.70,241.47 423.70,242.10 439.00,242.10 440.00,242.10 440.00,242.60 465.00,242.60 470.80,242.60 470.80,243.20 472.33,243.20 472.33,243.97 473.87,243.97 473.87,244.73 475.40,244.73 475.40,245.50 480.00,245.50 480.00,246.10 480.85,246.10 480.85,246.95 481.70,246.95 481.70,247.80 503.10,247.80" fill="none" stroke="#285e92" stroke-width="1.1" stroke-linejoin="miter"/>
<polyline points="326.50,235.20 351.80,235.20" fill="none" stroke="#3a3346" stroke-width="1.25"/>
<polyline points="461.50,242.60 465.00,242.60 470.80,243.20 475.40,245.50 480.00,246.10 481.70,247.80 496.10,247.80" fill="none" stroke="#245786" stroke-width="2.1" stroke-linejoin="round"/>
<rect x="460.60" y="241.30" width="1.8" height="2.6" fill="#1b4676"/>
<rect x="498.70" y="246.50" width="1.8" height="2.6" fill="#1b4676"/>
<rect x="502.20" y="246.50" width="1.8" height="2.6" fill="#1b4676"/>
<text x="459.00" y="238.20" font-size="8.7" text-anchor="start" fill="#46617e" stroke="#46617e" stroke-width="0.15" textLength="14.60" lengthAdjust="spacingAndGlyphs">0.90</text>
<text x="459.00" y="258.60" font-size="8.7" text-anchor="start" fill="#b9405f" stroke="#b9405f" stroke-width="0.15" textLength="14.60" lengthAdjust="spacingAndGlyphs">0.64</text>
<text x="326.00" y="270.50" font-size="8.7" text-anchor="start" fill="#333" stroke="#333" stroke-width="0.15" textLength="10.60" lengthAdjust="spacingAndGlyphs">OS</text>
<path d="M326 278.4 H335.0 M330.5 277.2 V279.59999999999997" stroke="#9e2a4e" stroke-width="1.5"/>
<text x="338.90" y="280.60" font-size="8.7" text-anchor="start" fill="#333" stroke="#333" stroke-width="0.15" textLength="42.20" lengthAdjust="spacingAndGlyphs">PET positive</text>
<path d="M326 288.59999999999997 H335.0 M330.5 287.4 V289.79999999999995" stroke="#1f4670" stroke-width="1.5"/>
<text x="338.90" y="290.70" font-size="8.7" text-anchor="start" fill="#333" stroke="#333" stroke-width="0.15" textLength="44.90" lengthAdjust="spacingAndGlyphs">PET negative</text>
<text x="326.20" y="304.00" font-size="8.7" text-anchor="start" fill="#333" stroke="#333" stroke-width="0.15" textLength="5.60" lengthAdjust="spacingAndGlyphs" font-style="italic">P</text>
<text x="333.80" y="304.00" font-size="8.7" text-anchor="start" fill="#333" stroke="#333" stroke-width="0.15" textLength="4.60" lengthAdjust="spacingAndGlyphs">=</text>
<text x="340.20" y="304.00" font-size="8.7" text-anchor="start" fill="#333" stroke="#333" stroke-width="0.15" textLength="14.63" lengthAdjust="spacingAndGlyphs">.033</text>
<text x="316.80" y="361.20" font-size="8.7" text-anchor="start" fill="#333" stroke="#333" stroke-width="0.15" textLength="54.60" lengthAdjust="spacingAndGlyphs">Number at risk</text>
<path d="M316.5 366.2 V390.7 H506.6" fill="none" stroke="#111" stroke-width="1.2"/>
<path d="M313.5 373.09999999999997 H316.5 M313.5 385.29999999999995 H316.5" stroke="#333" stroke-width="1.0"/>
<path d="M300.9 373.09999999999997 H310.2" stroke="#ad3459" stroke-width="1.4"/>
<path d="M300.9 385.29999999999995 H310.2" stroke="#4a6f92" stroke-width="1.4"/>
<path d="M328.80 390.7 V393.9" stroke="#333" stroke-width="0.95"/>
<text x="326.60" y="403.90" font-size="8.7" text-anchor="middle" fill="#333" stroke="#333" stroke-width="0.15" textLength="4.45" lengthAdjust="spacingAndGlyphs">0</text>
<text x="326.60" y="375.90" font-size="8.7" text-anchor="middle" fill="#333" stroke="#333" stroke-width="0.15" textLength="8.30" lengthAdjust="spacingAndGlyphs">11</text>
<text x="326.60" y="387.70" font-size="8.7" text-anchor="middle" fill="#333" stroke="#333" stroke-width="0.15" textLength="13.35" lengthAdjust="spacingAndGlyphs">122</text>
<path d="M363.86 390.7 V393.9" stroke="#333" stroke-width="0.95"/>
<text x="362.04" y="403.90" font-size="8.7" text-anchor="middle" fill="#333" stroke="#333" stroke-width="0.15" textLength="13.35" lengthAdjust="spacingAndGlyphs">500</text>
<text x="362.04" y="375.90" font-size="8.7" text-anchor="middle" fill="#333" stroke="#333" stroke-width="0.15" textLength="8.30" lengthAdjust="spacingAndGlyphs">11</text>
<text x="362.04" y="387.70" font-size="8.7" text-anchor="middle" fill="#333" stroke="#333" stroke-width="0.15" textLength="12.75" lengthAdjust="spacingAndGlyphs">117</text>
<path d="M398.92 390.7 V393.9" stroke="#333" stroke-width="0.95"/>
<text x="397.48" y="403.90" font-size="8.7" text-anchor="middle" fill="#333" stroke="#333" stroke-width="0.15" textLength="17.80" lengthAdjust="spacingAndGlyphs">1000</text>
<text x="397.48" y="375.90" font-size="8.7" text-anchor="middle" fill="#333" stroke="#333" stroke-width="0.15" textLength="4.45" lengthAdjust="spacingAndGlyphs">8</text>
<text x="397.48" y="387.70" font-size="8.7" text-anchor="middle" fill="#333" stroke="#333" stroke-width="0.15" textLength="12.75" lengthAdjust="spacingAndGlyphs">115</text>
<path d="M433.98 390.7 V393.9" stroke="#333" stroke-width="0.95"/>
<text x="432.92" y="403.90" font-size="8.7" text-anchor="middle" fill="#333" stroke="#333" stroke-width="0.15" textLength="17.80" lengthAdjust="spacingAndGlyphs">1500</text>
<text x="432.92" y="375.90" font-size="8.7" text-anchor="middle" fill="#333" stroke="#333" stroke-width="0.15" textLength="4.45" lengthAdjust="spacingAndGlyphs">7</text>
<text x="432.92" y="387.70" font-size="8.7" text-anchor="middle" fill="#333" stroke="#333" stroke-width="0.15" textLength="12.16" lengthAdjust="spacingAndGlyphs">111</text>
<path d="M469.04 390.7 V393.9" stroke="#333" stroke-width="0.95"/>
<text x="468.36" y="403.90" font-size="8.7" text-anchor="middle" fill="#333" stroke="#333" stroke-width="0.15" textLength="17.80" lengthAdjust="spacingAndGlyphs">2000</text>
<text x="468.36" y="375.90" font-size="8.7" text-anchor="middle" fill="#333" stroke="#333" stroke-width="0.15" textLength="4.45" lengthAdjust="spacingAndGlyphs">6</text>
<text x="468.36" y="387.70" font-size="8.7" text-anchor="middle" fill="#333" stroke="#333" stroke-width="0.15" textLength="8.90" lengthAdjust="spacingAndGlyphs">96</text>
<path d="M504.10 390.7 V393.9" stroke="#333" stroke-width="0.95"/>
<text x="503.80" y="403.90" font-size="8.7" text-anchor="middle" fill="#333" stroke="#333" stroke-width="0.15" textLength="17.80" lengthAdjust="spacingAndGlyphs">2500</text>
<text x="503.80" y="375.90" font-size="8.7" text-anchor="middle" fill="#333" stroke="#333" stroke-width="0.15" textLength="4.45" lengthAdjust="spacingAndGlyphs">0</text>
<text x="503.80" y="387.70" font-size="8.7" text-anchor="middle" fill="#333" stroke="#333" stroke-width="0.15" textLength="4.45" lengthAdjust="spacingAndGlyphs">0</text>
</svg>
</body></html>
